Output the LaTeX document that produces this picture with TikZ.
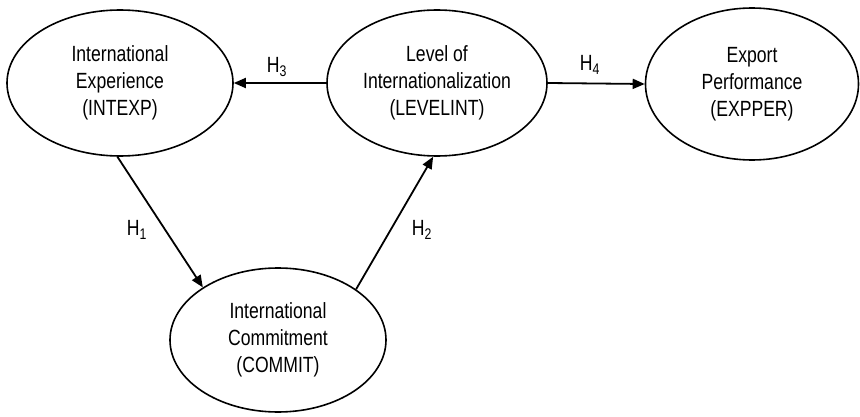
\documentclass[tikz,border=0pt]{standalone}
\usepackage{fontspec}
\setmainfont[FakeStretch=0.8]{Liberation Sans}
\usetikzlibrary{shapes.geometric,arrows.meta}
\begin{document}
\begin{tikzpicture}[x=1pt,y=1pt,
  construct/.style={ellipse,draw,line width=1.6pt,inner sep=0pt,align=center,
    font=\fontsize{22}{27}\selectfont},
  arr/.style={line width=1.8pt,-{Triangle[length=12pt,width=10pt]}},
  hlabel/.style={font=\fontsize{22}{24}\selectfont}]
\useasboundingbox (0,0) rectangle (860,416);
\node[construct,minimum width=226pt,minimum height=146pt] (INTEXP) at (120,333)
  {International\\Experience\\(INTEXP)};
\node[construct,minimum width=220pt,minimum height=146pt] (LEVELINT) at (437,333)
  {Level of\\Internationalization\\(LEVELINT)};
\node[construct,minimum width=213pt,minimum height=152pt] (EXPPER) at (752,332)
  {Export\\Performance\\(EXPPER)};
\node[construct,minimum width=216pt,minimum height=144pt] (COMMIT) at (278,76)
  {International\\Commitment\\(COMMIT)};
\draw[arr] (LEVELINT.west) -- (INTEXP.east);
\draw[arr] (LEVELINT.east) -- (EXPPER.west);
\draw[arr] (INTEXP.-92) -- (COMMIT.145.6);
\draw[arr] (COMMIT.33.5) -- (LEVELINT.-93);
\node[hlabel] (h3) at (277,349) {H\textsubscript{3}};
\node[hlabel] (h4) at (590,351) {H\textsubscript{4}};
\node[hlabel] (h1) at (137,186) {H\textsubscript{1}};
\node[hlabel] (h2) at (422,186) {H\textsubscript{2}};
\end{tikzpicture}
\end{document}
